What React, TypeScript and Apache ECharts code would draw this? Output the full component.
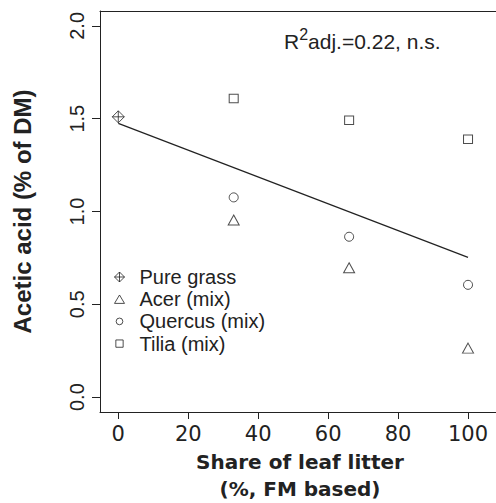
import React, { useEffect, useRef } from "react";
import * as echarts from "echarts";

// ---- data ----
const pureGrassX = [0];
const pureGrassY = [1.51];
const mixX = [33, 66, 100];
const acerY = [0.954, 0.697, 0.264];
const quercusY = [1.076, 0.864, 0.605];
const tiliaY = [1.609, 1.491, 1.389];
const fitX = [0, 100];
const fitY = [1.475, 0.753];
const xTicks = [0, 20, 40, 60, 80, 100];
const yTicks = [0, 0.5, 1.0, 1.5, 2.0];
const seriesNames = ["Pure grass", "Acer (mix)", "Quercus (mix)", "Tilia (mix)"];
const xTitle = "Share of leaf litter\n(%, FM based)";
const yTitle = "Acetic acid (% of DM)";
const statParts = ["R", "2", "adj.=0.22, n.s."];

const INK = "#222";

const diamondPlus = "path://M0,-5L5,0L0,5L-5,0Z M0,-5L0,5 M-5,0L5,0";
const legendIcons = [
  "path://M0,-5L5,0L0,5L-5,0Z M0,-5L0,5 M-5,0L5,0",
  "path://M-5.35,-5.35 M5.35,5.35 M0,-4.5L5.35,4.5L-5.35,4.5Z",
  "path://M-5,-5 M5,5 M3.35,0 A3.35,3.35 0 1 1 -3.35,0 A3.35,3.35 0 1 1 3.35,0 Z",
  "path://M-5,-5 M5,5 M-3.65,-3.65 L3.65,-3.65 L3.65,3.65 L-3.65,3.65 Z",
];

const pts = (xs: number[], ys: number[]) => xs.map((x, i) => [x, ys[i]]);

export default function App() {
  const ref = useRef<HTMLDivElement>(null);
  useEffect(() => {
    if (!ref.current) return;
    const chart = echarts.init(ref.current, null, { renderer: "svg" });
    const markerStyle = { color: "#fff", borderColor: INK, borderWidth: 1 };
    const xMin = -5.23;
    const xMax = 108;
    chart.setOption({
      animation: false,
      backgroundColor: "#fff",
      grid: { left: 100, right: 0, top: 11, bottom: 91, containLabel: false, outerBoundsMode: "none" },
      xAxis: [
        {
          type: "value",
          min: xMin,
          max: xMax,
          position: "bottom",
          axisLine: { show: true, onZero: false, lineStyle: { color: INK, width: 1 } },
          axisTick: { show: true, length: 7, customValues: xTicks, lineStyle: { color: INK, width: 1 } },
          axisLabel: {
            customValues: xTicks,
            margin: 11,
            fontFamily: "DejaVu Sans",
            fontSize: 21,
            color: INK,
          },
          splitLine: { show: false },
          name: xTitle,
          nameLocation: "middle",
          nameGap: 32,
          nameTextStyle: {
            fontFamily: "DejaVu Sans",
            fontWeight: "bold",
            fontSize: 20,
            lineHeight: 27,
            color: INK,
            padding: [0, 0, 0, 4],
          },
        },
        {
          type: "value",
          min: xMin,
          max: xMax,
          position: "top",
          axisLine: { show: true, onZero: false, lineStyle: { color: INK, width: 1 } },
          axisTick: { show: false },
          axisLabel: { show: false },
          splitLine: { show: false },
        },
      ],
      yAxis: {
        type: "value",
        min: -0.08,
        max: 2.08,
        axisLine: { show: true, onZero: false, lineStyle: { color: INK, width: 1 } },
        axisTick: { show: true, length: 8, customValues: yTicks, lineStyle: { color: INK, width: 1 } },
        axisLabel: {
          customValues: yTicks,
          rotate: 90,
          margin: 13,
          formatter: (v: number) => v.toFixed(1),
          fontFamily: "Liberation Sans",
          fontSize: 20,
          color: INK,
        },
        splitLine: { show: false },
        name: yTitle,
        nameLocation: "middle",
        nameGap: 66,
        nameTextStyle: {
          fontFamily: "Liberation Sans",
          fontWeight: "bold",
          fontSize: 24,
          color: INK,
        },
      },
      legend: {
        orient: "vertical",
        left: 114,
        top: 266,
        padding: 0,
        itemGap: 0.2,
        itemWidth: 10,
        itemHeight: 10,
        selectedMode: false,
        textStyle: {
          fontFamily: "Liberation Sans",
          fontSize: 20,
          lineHeight: 22,
          color: INK,
          padding: [0, 0, 0, 10],
        },
        itemStyle: { color: "#fff", borderColor: INK, borderWidth: 1 },
        data: seriesNames.map((n, i) => ({ name: n, icon: legendIcons[i] })),
      },
      series: [
        {
          type: "line",
          name: "fit",
          data: pts(fitX, fitY),
          showSymbol: false,
          symbol: "none",
          lineStyle: { color: INK, width: 1.2 },
          z: 1,
        },
        {
          type: "scatter",
          name: seriesNames[0],
          data: pts(pureGrassX, pureGrassY),
          symbol: diamondPlus,
          symbolSize: 12,
          itemStyle: markerStyle,
          z: 3,
        },
        {
          type: "scatter",
          name: seriesNames[1],
          data: pts(mixX, acerY),
          symbol: "triangle",
          symbolSize: [11, 10],
          itemStyle: markerStyle,
          z: 3,
        },
        {
          type: "scatter",
          name: seriesNames[2],
          data: pts(mixX, quercusY),
          symbol: "circle",
          symbolSize: 9,
          itemStyle: markerStyle,
          z: 3,
        },
        {
          type: "scatter",
          name: seriesNames[3],
          data: pts(mixX, tiliaY),
          symbol: "rect",
          symbolSize: [9, 8.5],
          itemStyle: markerStyle,
          z: 3,
        },
      ],
      graphic: [
        {
          type: "text",
          x: 284,
          y: 31,
          style: {
            text: `{r|${statParts[0]}}{s|${statParts[1]}}{r|${statParts[2]}}`,
            verticalAlign: "top",
            fill: INK,
            rich: {
              r: { fontFamily: "Liberation Sans", fontSize: 21, lineHeight: 21, verticalAlign: "bottom", fill: INK },
              s: { fontFamily: "Liberation Sans", fontSize: 16, lineHeight: 16, padding: [0, 0, 10, 0], verticalAlign: "bottom", fill: INK },
            },
          },
        },
      ],
    });
    return () => chart.dispose();
  }, []);
  return (
    <div
      ref={ref}
      style={{ position: "absolute", left: 0, top: 0, width: 496, height: 503, background: "#fff" }}
    />
  );
}
